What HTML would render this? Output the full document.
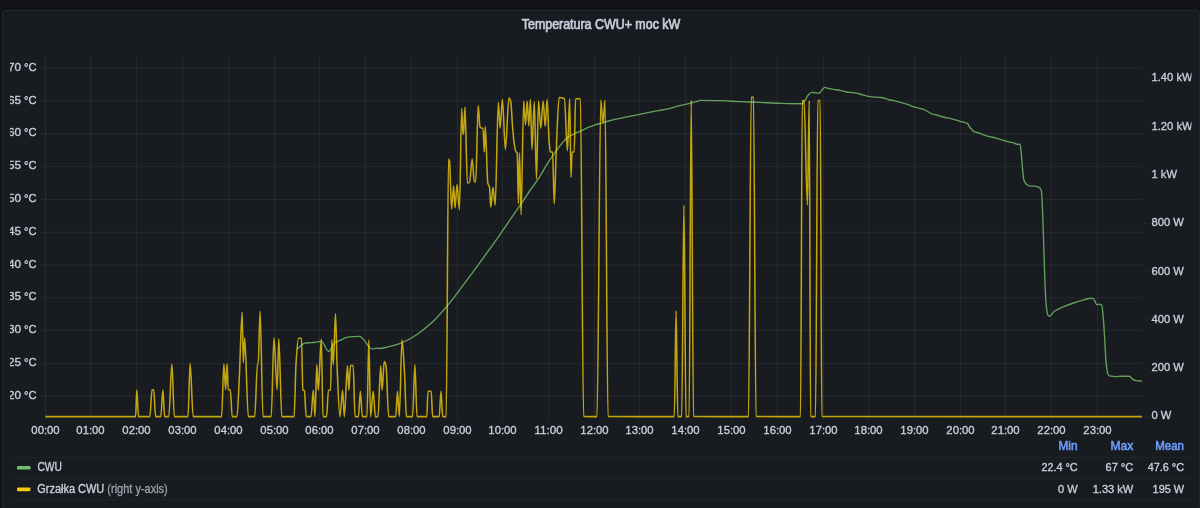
<!DOCTYPE html>
<html><head><meta charset="utf-8"><title>Temperatura CWU+ moc kW</title>
<style>html,body{margin:0;padding:0;width:1200px;height:508px;overflow:hidden;background:#111217;}svg{display:block;}</style>
</head><body>
<svg width="1200" height="508" viewBox="0 0 1200 508">
<defs><clipPath id="c"><rect x="10" y="0" width="1181.5" height="508"/></clipPath></defs>
<rect width="1200" height="508" fill="#111217"/>
<rect x="2.5" y="10.5" width="1197" height="498" rx="2.5" fill="#181b1f" stroke="rgba(204,204,220,0.10)"/>
<text x="601" y="28.7" font-family="Liberation Sans, Arial, sans-serif" font-size="14" fill="#ccccdc" stroke="#ccccdc" stroke-width="0.7" text-anchor="middle" textLength="158.5" lengthAdjust="spacingAndGlyphs">Temperatura CWU+ moc kW</text>
<g clip-path="url(#c)">
<path d="M45.5,55V420 M90.5,55V420 M136.5,55V420 M182.5,55V420 M228.5,55V420 M274.5,55V420 M319.5,55V420 M365.5,55V420 M411.5,55V420 M457.5,55V420 M502.5,55V420 M548.5,55V420 M594.5,55V420 M639.5,55V420 M685.5,55V420 M731.5,55V420 M777.5,55V420 M823.5,55V420 M868.5,55V420 M914.5,55V420 M960.5,55V420 M1005.5,55V420 M1051.5,55V420 M1097.5,55V420 M41,68.30H1143 M41,101.09H1143 M41,133.88H1143 M41,166.67H1143 M41,199.46H1143 M41,232.25H1143 M41,265.04H1143 M41,297.83H1143 M41,330.62H1143 M41,363.41H1143 M41,396.20H1143" stroke="rgba(204,204,220,0.08)" stroke-width="1" fill="none"/>
<path d="M1143,416.60H1147 M1143,368.31H1147 M1143,320.03H1147 M1143,271.74H1147 M1143,223.46H1147 M1143,175.17H1147 M1143,126.88H1147 M1143,78.60H1147" stroke="rgba(204,204,220,0.08)" stroke-width="1" fill="none"/>
<g font-family="Liberation Sans, Arial, sans-serif" font-size="11.8" fill="#ccccdc" stroke="#ccccdc" stroke-width="0.35">
<text x="21.2" y="70.8" text-anchor="end">70</text><text x="24.0" y="70.8" textLength="12.4" lengthAdjust="spacingAndGlyphs">°C</text>
<text x="21.2" y="103.6" text-anchor="end">65</text><text x="24.0" y="103.6" textLength="12.4" lengthAdjust="spacingAndGlyphs">°C</text>
<text x="21.2" y="136.4" text-anchor="end">60</text><text x="24.0" y="136.4" textLength="12.4" lengthAdjust="spacingAndGlyphs">°C</text>
<text x="21.2" y="169.2" text-anchor="end">55</text><text x="24.0" y="169.2" textLength="12.4" lengthAdjust="spacingAndGlyphs">°C</text>
<text x="21.2" y="202.0" text-anchor="end">50</text><text x="24.0" y="202.0" textLength="12.4" lengthAdjust="spacingAndGlyphs">°C</text>
<text x="21.2" y="234.8" text-anchor="end">45</text><text x="24.0" y="234.8" textLength="12.4" lengthAdjust="spacingAndGlyphs">°C</text>
<text x="21.2" y="267.5" text-anchor="end">40</text><text x="24.0" y="267.5" textLength="12.4" lengthAdjust="spacingAndGlyphs">°C</text>
<text x="21.2" y="300.3" text-anchor="end">35</text><text x="24.0" y="300.3" textLength="12.4" lengthAdjust="spacingAndGlyphs">°C</text>
<text x="21.2" y="333.1" text-anchor="end">30</text><text x="24.0" y="333.1" textLength="12.4" lengthAdjust="spacingAndGlyphs">°C</text>
<text x="21.2" y="365.9" text-anchor="end">25</text><text x="24.0" y="365.9" textLength="12.4" lengthAdjust="spacingAndGlyphs">°C</text>
<text x="21.2" y="398.7" text-anchor="end">20</text><text x="24.0" y="398.7" textLength="12.4" lengthAdjust="spacingAndGlyphs">°C</text>
<text transform="translate(1151.50 419.40) scale(0.95 1)">0 W</text>
<text transform="translate(1151.50 371.11) scale(0.95 1)">200 W</text>
<text transform="translate(1151.50 322.83) scale(0.95 1)">400 W</text>
<text transform="translate(1151.50 274.54) scale(0.95 1)">600 W</text>
<text transform="translate(1151.50 226.26) scale(0.95 1)">800 W</text>
<text transform="translate(1151.50 177.97) scale(0.95 1)">1 kW</text>
<text transform="translate(1151.50 129.68) scale(0.95 1)">1.20 kW</text>
<text transform="translate(1151.50 81.40) scale(0.95 1)">1.40 kW</text>
<text x="45.5" y="433.6" text-anchor="middle" textLength="28.3" lengthAdjust="spacingAndGlyphs">00:00</text>
<text x="90.5" y="433.6" text-anchor="middle" textLength="28.3" lengthAdjust="spacingAndGlyphs">01:00</text>
<text x="136.5" y="433.6" text-anchor="middle" textLength="28.3" lengthAdjust="spacingAndGlyphs">02:00</text>
<text x="182.5" y="433.6" text-anchor="middle" textLength="28.3" lengthAdjust="spacingAndGlyphs">03:00</text>
<text x="228.5" y="433.6" text-anchor="middle" textLength="28.3" lengthAdjust="spacingAndGlyphs">04:00</text>
<text x="274.5" y="433.6" text-anchor="middle" textLength="28.3" lengthAdjust="spacingAndGlyphs">05:00</text>
<text x="319.5" y="433.6" text-anchor="middle" textLength="28.3" lengthAdjust="spacingAndGlyphs">06:00</text>
<text x="365.5" y="433.6" text-anchor="middle" textLength="28.3" lengthAdjust="spacingAndGlyphs">07:00</text>
<text x="411.5" y="433.6" text-anchor="middle" textLength="28.3" lengthAdjust="spacingAndGlyphs">08:00</text>
<text x="457.5" y="433.6" text-anchor="middle" textLength="28.3" lengthAdjust="spacingAndGlyphs">09:00</text>
<text x="502.5" y="433.6" text-anchor="middle" textLength="28.3" lengthAdjust="spacingAndGlyphs">10:00</text>
<text x="548.5" y="433.6" text-anchor="middle" textLength="28.3" lengthAdjust="spacingAndGlyphs">11:00</text>
<text x="594.5" y="433.6" text-anchor="middle" textLength="28.3" lengthAdjust="spacingAndGlyphs">12:00</text>
<text x="639.5" y="433.6" text-anchor="middle" textLength="28.3" lengthAdjust="spacingAndGlyphs">13:00</text>
<text x="685.5" y="433.6" text-anchor="middle" textLength="28.3" lengthAdjust="spacingAndGlyphs">14:00</text>
<text x="731.5" y="433.6" text-anchor="middle" textLength="28.3" lengthAdjust="spacingAndGlyphs">15:00</text>
<text x="777.5" y="433.6" text-anchor="middle" textLength="28.3" lengthAdjust="spacingAndGlyphs">16:00</text>
<text x="823.5" y="433.6" text-anchor="middle" textLength="28.3" lengthAdjust="spacingAndGlyphs">17:00</text>
<text x="868.5" y="433.6" text-anchor="middle" textLength="28.3" lengthAdjust="spacingAndGlyphs">18:00</text>
<text x="914.5" y="433.6" text-anchor="middle" textLength="28.3" lengthAdjust="spacingAndGlyphs">19:00</text>
<text x="960.5" y="433.6" text-anchor="middle" textLength="28.3" lengthAdjust="spacingAndGlyphs">20:00</text>
<text x="1005.5" y="433.6" text-anchor="middle" textLength="28.3" lengthAdjust="spacingAndGlyphs">21:00</text>
<text x="1051.5" y="433.6" text-anchor="middle" textLength="28.3" lengthAdjust="spacingAndGlyphs">22:00</text>
<text x="1097.5" y="433.6" text-anchor="middle" textLength="28.3" lengthAdjust="spacingAndGlyphs">23:00</text>
</g>
<path d="M297.00,349.30C298.90,347.60 300.80,345.45 302.70,344.20C303.37,343.76 304.03,343.20 304.70,343.10C306.93,342.76 309.17,342.77 311.40,342.60C313.20,342.47 315.00,342.41 316.80,342.20C318.13,342.04 319.47,341.20 320.80,341.20C321.20,341.20 321.60,341.53 322.00,341.80C324.27,343.31 326.53,351.50 328.80,351.50C330.80,351.50 332.80,344.23 334.80,342.80C336.83,341.34 338.87,340.77 340.90,339.90C343.57,338.76 346.23,336.99 348.90,336.80C352.47,336.55 356.03,336.40 359.60,336.40C360.50,336.40 361.40,337.45 362.30,338.20C364.53,340.06 366.77,344.39 369.00,346.60C369.90,347.49 370.80,348.90 371.70,348.90C373.47,348.90 375.23,348.20 377.00,348.20C378.00,348.20 379.00,348.50 380.00,348.50C382.63,348.50 385.27,347.50 387.90,346.90C390.50,346.31 393.10,345.67 395.70,344.90C397.80,344.28 399.90,343.55 402.00,342.70C405.17,341.42 408.33,339.80 411.50,338.00C414.13,336.51 416.77,334.71 419.40,332.80C422.00,330.91 424.60,328.71 427.20,326.50C429.83,324.26 432.47,322.01 435.10,319.40C437.73,316.79 440.37,313.71 443.00,310.70C445.63,307.69 448.27,304.58 450.90,301.30C453.93,297.52 456.97,293.42 460.00,289.40C466.57,280.69 473.13,271.81 479.70,262.80C486.27,253.79 492.83,244.65 499.40,235.30C505.97,225.95 512.53,216.36 519.10,206.70C522.73,201.36 526.37,195.75 530.00,190.50C533.27,185.78 536.53,181.81 539.80,176.70C542.20,172.95 544.60,168.05 547.00,164.20C548.30,162.11 549.60,160.18 550.90,158.30C552.20,156.42 553.50,154.70 554.80,152.90C556.47,150.60 558.13,148.14 559.80,146.00C561.43,143.90 563.07,141.91 564.70,140.10C565.67,139.03 566.63,137.74 567.60,137.10C568.93,136.21 570.27,135.86 571.60,135.20C573.23,134.40 574.87,133.46 576.50,132.70C578.13,131.94 579.77,131.33 581.40,130.60C583.03,129.87 584.67,129.01 586.30,128.30C587.97,127.58 589.63,126.97 591.30,126.30C592.53,125.80 593.77,125.20 595.00,124.80C596.67,124.27 598.33,123.95 600.00,123.50C602.90,122.71 605.80,121.76 608.70,121.00C612.00,120.13 615.30,119.31 618.60,118.60C621.87,117.90 625.13,117.35 628.40,116.70C631.70,116.05 635.00,115.37 638.30,114.70C641.57,114.04 644.83,113.36 648.10,112.70C651.40,112.03 654.70,111.35 658.00,110.70C661.27,110.05 664.53,109.53 667.80,108.80C671.07,108.07 674.33,107.01 677.60,106.20C680.90,105.38 684.20,104.70 687.50,103.90C690.13,103.26 692.77,102.64 695.40,101.90C697.03,101.44 698.67,100.40 700.30,100.40C706.87,100.40 713.43,100.55 720.00,100.70C726.67,100.85 733.33,101.32 740.00,101.60C746.67,101.88 753.33,102.12 760.00,102.40C766.67,102.68 773.33,103.13 780.00,103.30C787.33,103.49 794.67,103.70 802.00,103.70C803.10,103.70 804.20,101.51 805.30,100.00C806.20,98.76 807.10,96.27 808.00,95.30C809.33,93.87 810.67,92.30 812.00,92.30C812.90,92.30 813.80,92.57 814.70,92.70C816.03,92.90 817.37,93.30 818.70,93.30C819.37,93.30 820.03,92.31 820.70,91.70C822.03,90.49 823.37,87.30 824.70,87.30C825.80,87.30 826.90,88.04 828.00,88.30C829.77,88.72 831.53,88.99 833.30,89.30C835.53,89.69 837.77,89.97 840.00,90.40C842.23,90.83 844.47,91.67 846.70,92.00C848.90,92.32 851.10,92.40 853.30,92.70C855.53,93.01 857.77,93.49 860.00,94.00C862.77,94.63 865.53,95.81 868.30,96.30C870.53,96.70 872.77,97.05 875.00,97.20C877.23,97.35 879.47,97.33 881.70,97.50C884.47,97.71 887.23,99.35 890.00,100.00C892.23,100.52 894.47,100.79 896.70,101.30C900.57,102.19 904.43,103.36 908.30,104.70C909.97,105.28 911.63,106.20 913.30,106.70C915.53,107.38 917.77,107.67 920.00,108.30C921.67,108.77 923.33,109.30 925.00,110.00C927.23,110.94 929.47,113.06 931.70,113.80C933.37,114.35 935.03,114.56 936.70,115.00C939.47,115.73 942.23,116.94 945.00,117.50C946.67,117.84 948.33,117.96 950.00,118.30C953.33,118.97 956.67,120.27 960.00,121.30C962.50,122.08 965.00,122.22 967.50,123.70C968.33,124.19 969.17,126.48 970.00,127.50C971.40,129.22 972.80,131.08 974.20,131.70C976.13,132.56 978.07,132.69 980.00,133.30C982.23,134.01 984.47,135.12 986.70,135.80C990.03,136.81 993.37,137.39 996.70,138.30C999.47,139.06 1002.23,140.03 1005.00,140.80C1006.67,141.26 1008.33,141.68 1010.00,142.10C1011.37,142.44 1012.73,142.68 1014.10,143.10C1015.03,143.39 1015.97,144.20 1016.90,144.20C1017.90,144.20 1018.90,144.20 1019.90,144.20C1020.27,144.20 1020.63,147.85 1021.00,150.70C1021.47,154.33 1021.93,162.46 1022.40,167.20C1022.87,171.94 1023.33,178.25 1023.80,179.70C1024.73,182.60 1025.67,183.80 1026.60,184.50C1027.73,185.35 1028.87,186.10 1030.00,186.10C1031.60,186.10 1033.20,186.10 1034.80,186.10C1036.43,186.10 1038.07,186.81 1039.70,187.90C1040.27,188.28 1040.83,188.99 1041.40,190.70C1042.03,192.61 1042.67,214.92 1043.30,231.30C1043.73,242.51 1044.17,261.40 1044.60,272.60C1045.07,284.67 1045.53,298.37 1046.00,303.00C1046.67,309.61 1047.33,314.51 1048.00,315.30C1048.43,315.81 1048.87,316.20 1049.30,316.20C1050.97,316.20 1052.63,312.34 1054.30,311.20C1057.03,309.33 1059.77,308.27 1062.50,307.10C1066.20,305.52 1069.90,304.25 1073.60,303.00C1077.27,301.77 1080.93,300.61 1084.60,299.60C1086.03,299.20 1087.47,298.62 1088.90,298.50C1090.23,298.39 1091.57,298.30 1092.90,298.30C1093.53,298.30 1094.17,299.80 1094.80,300.80C1095.47,301.86 1096.13,304.80 1096.80,304.80C1097.47,304.80 1098.13,304.20 1098.80,304.20C1099.77,304.20 1100.73,304.36 1101.70,304.80C1102.17,305.01 1102.63,310.91 1103.10,315.60C1103.63,320.97 1104.17,331.01 1104.70,339.20C1105.23,347.39 1105.77,360.58 1106.30,364.80C1106.93,369.81 1107.57,373.83 1108.20,374.60C1109.00,375.57 1109.80,376.09 1110.60,376.20C1112.57,376.47 1114.53,376.60 1116.50,376.60C1117.80,376.60 1119.10,376.20 1120.40,376.20C1123.37,376.20 1126.33,376.20 1129.30,376.20C1130.60,376.20 1131.90,378.98 1133.20,379.60C1134.20,380.07 1135.20,380.45 1136.20,380.60C1138.13,380.88 1140.07,380.93 1142.00,381.10" stroke="#73BF69" stroke-width="1.35" stroke-opacity="0.82" fill="none" stroke-linejoin="round"/>
<path d="M45.50,416.60C75.53,416.60 105.57,416.60 135.60,416.60C136.00,416.60 136.40,389.80 136.80,389.80C137.37,389.80 137.93,416.60 138.50,416.60C142.30,416.60 146.10,416.60 149.90,416.60C150.60,416.60 151.30,389.80 152.00,389.80C152.57,389.80 153.13,389.80 153.70,389.80C154.33,389.80 154.97,416.60 155.60,416.60C157.33,416.60 159.07,416.60 160.80,416.60C161.50,416.60 162.20,389.80 162.90,389.80C163.47,389.80 164.03,416.60 164.60,416.60C166.00,416.60 167.40,416.60 168.80,416.60C169.83,416.60 170.87,363.80 171.90,363.80C172.70,363.80 173.50,416.60 174.30,416.60C178.87,416.60 183.43,416.60 188.00,416.60C188.70,416.60 189.40,363.40 190.10,363.40C191.13,363.40 192.17,416.60 193.20,416.60C202.67,416.60 212.13,416.60 221.60,416.60C222.37,416.60 223.13,363.80 223.90,363.80C224.47,363.80 225.03,389.80 225.60,389.80C226.07,389.80 226.53,363.80 227.00,363.80C227.40,363.80 227.80,389.80 228.20,389.80C228.90,389.80 229.60,389.80 230.30,389.80C230.93,389.80 231.57,416.60 232.20,416.60C233.80,416.60 235.40,416.60 237.00,416.60C237.77,416.60 238.53,392.92 239.30,378.00C240.23,359.83 241.17,312.30 242.10,312.30C242.50,312.30 242.90,362.60 243.30,362.60C243.77,362.60 244.23,337.80 244.70,337.80C245.90,337.80 247.10,416.60 248.30,416.60C250.43,416.60 252.57,416.60 254.70,416.60C255.63,416.60 256.57,363.80 257.50,363.80C257.73,363.80 257.97,363.80 258.20,363.80C258.83,363.80 259.47,311.30 260.10,311.30C261.07,311.30 262.03,416.60 263.00,416.60C265.73,416.60 268.47,416.60 271.20,416.60C272.13,416.60 273.07,337.80 274.00,337.80C275.03,337.80 276.07,389.80 277.10,389.80C277.67,389.80 278.23,339.00 278.80,339.00C279.80,339.00 280.80,416.60 281.80,416.60C285.90,416.60 290.00,416.60 294.10,416.60C294.73,416.60 295.37,373.45 296.00,363.80C296.83,351.10 297.67,338.30 298.50,338.30C299.50,338.30 300.50,338.30 301.50,338.30C301.93,338.30 302.37,389.72 302.80,390.00C303.33,390.34 303.87,390.18 304.40,390.50C305.00,390.86 305.60,416.60 306.20,416.60C307.80,416.60 309.40,416.60 311.00,416.60C311.77,416.60 312.53,390.30 313.30,390.30C313.87,390.30 314.43,416.60 315.00,416.60C315.60,416.60 316.20,364.60 316.80,364.60C317.30,364.60 317.80,390.30 318.30,390.30C319.30,390.30 320.30,338.90 321.30,338.90C321.87,338.90 322.43,416.60 323.00,416.60C324.20,416.60 325.40,416.60 326.60,416.60C327.20,416.60 327.80,390.30 328.40,390.30C329.10,390.30 329.80,390.30 330.50,390.30C330.97,390.30 331.43,339.80 331.90,339.80C332.37,339.80 332.83,364.60 333.30,364.60C334.03,364.60 334.77,313.40 335.50,313.40C336.07,313.40 336.63,355.72 337.20,369.00C338.10,390.10 339.00,416.60 339.90,416.60C340.80,416.60 341.70,390.30 342.60,390.30C343.17,390.30 343.73,416.60 344.30,416.60C345.37,416.60 346.43,365.50 347.50,365.50C347.93,365.50 348.37,390.30 348.80,390.30C349.37,390.30 349.93,365.50 350.50,365.50C351.40,365.50 352.30,365.50 353.20,365.50C353.80,365.50 354.40,416.60 355.00,416.60C356.17,416.60 357.33,416.60 358.50,416.60C359.10,416.60 359.70,391.20 360.30,391.20C361.00,391.20 361.70,416.60 362.40,416.60C363.93,416.60 365.47,416.60 367.00,416.60C367.60,416.60 368.20,339.80 368.80,339.80C369.40,339.80 370.00,416.60 370.60,416.60C371.47,416.60 372.33,391.20 373.20,391.20C373.93,391.20 374.67,416.60 375.40,416.60C376.27,416.60 377.13,416.60 378.00,416.60C378.90,416.60 379.80,365.50 380.70,365.50C381.17,365.50 381.63,390.30 382.10,390.30C382.80,390.30 383.50,361.60 384.20,361.60C384.80,361.60 385.40,363.28 386.00,365.50C386.90,368.82 387.80,416.60 388.70,416.60C391.03,416.60 393.37,416.60 395.70,416.60C396.30,416.60 396.90,391.20 397.50,391.20C398.10,391.20 398.70,416.60 399.30,416.60C400.20,416.60 401.10,339.80 402.00,339.80C402.87,339.80 403.73,359.35 404.60,374.30C405.20,384.65 405.80,416.60 406.40,416.60C408.47,416.60 410.53,416.60 412.60,416.60C413.37,416.60 414.13,364.60 414.90,364.60C415.60,364.60 416.30,416.60 417.00,416.60C420.27,416.60 423.53,416.60 426.80,416.60C427.20,416.60 427.60,391.20 428.00,391.20C429.07,391.20 430.13,391.20 431.20,391.20C431.67,391.20 432.13,416.60 432.60,416.60C434.80,416.60 437.00,416.60 439.20,416.60C439.80,416.60 440.40,391.20 441.00,391.20C441.57,391.20 442.13,416.60 442.70,416.60C443.87,416.60 445.03,416.60 446.20,416.60C446.97,416.60 447.73,159.00 448.50,159.00C448.83,159.00 449.17,159.88 449.50,161.00C450.20,163.34 450.90,209.20 451.60,209.20C452.27,209.20 452.93,185.80 453.60,185.80C454.07,185.80 454.53,207.90 455.00,207.90C455.70,207.90 456.40,184.40 457.10,184.40C457.87,184.40 458.63,209.90 459.40,209.90C460.17,209.90 460.93,108.20 461.70,108.20C462.10,108.20 462.50,134.10 462.90,134.10C463.10,134.10 463.30,133.84 463.50,133.50C464.00,132.66 464.50,107.00 465.00,107.00C465.80,107.00 466.60,183.00 467.40,183.00C468.10,183.00 468.80,182.77 469.50,182.40C470.40,181.92 471.30,159.00 472.20,159.00C472.90,159.00 473.60,181.70 474.30,181.70C474.77,181.70 475.23,181.70 475.70,181.70C476.53,181.70 477.37,105.60 478.20,105.60C478.80,105.60 479.40,126.24 480.00,127.00C480.60,127.76 481.20,128.20 481.80,128.20C482.20,128.20 482.60,128.20 483.00,128.20C483.43,128.20 483.87,152.00 484.30,152.00C484.63,152.00 484.97,126.50 485.30,126.50C486.13,126.50 486.97,179.47 487.80,183.00C488.37,185.40 488.93,184.71 489.50,187.20C489.93,189.11 490.37,207.20 490.80,207.20C491.50,207.20 492.20,187.20 492.90,187.20C493.67,187.20 494.43,205.10 495.20,205.10C496.23,205.10 497.27,102.30 498.30,102.30C498.90,102.30 499.50,128.20 500.10,128.20C500.87,128.20 501.63,99.30 502.40,99.30C503.40,99.30 504.40,149.50 505.40,149.50C506.57,149.50 507.73,98.10 508.90,98.10C509.50,98.10 510.10,99.27 510.70,101.00C511.30,102.73 511.90,118.78 512.50,125.90C513.07,132.62 513.63,139.96 514.20,143.60C514.80,147.45 515.40,151.39 516.00,151.90C516.40,152.24 516.80,152.10 517.20,152.50C517.60,152.90 518.00,203.70 518.40,203.70C518.77,203.70 519.13,152.80 519.50,152.80C520.03,152.80 520.57,214.70 521.10,214.70C521.97,214.70 522.83,101.00 523.70,101.00C524.30,101.00 524.90,124.70 525.50,124.70C526.07,124.70 526.63,101.00 527.20,101.00C527.73,101.00 528.27,125.90 528.80,125.90C529.33,125.90 529.87,99.30 530.40,99.30C530.93,99.30 531.47,149.50 532.00,149.50C532.77,149.50 533.53,101.70 534.30,101.70C535.03,101.70 535.77,179.00 536.50,179.00C537.17,179.00 537.83,101.00 538.50,101.00C539.27,101.00 540.03,128.20 540.80,128.20C541.60,128.20 542.40,101.00 543.20,101.00C543.87,101.00 544.53,126.50 545.20,126.50C545.83,126.50 546.47,99.30 547.10,99.30C547.77,99.30 548.43,133.13 549.10,141.20C549.50,146.04 549.90,151.90 550.30,151.90C551.07,151.90 551.83,151.90 552.60,151.90C553.13,151.90 553.67,203.70 554.20,203.70C554.90,203.70 555.60,165.26 556.30,150.00C557.23,129.66 558.17,97.50 559.10,97.50C560.87,97.50 562.63,97.83 564.40,98.70C565.40,99.19 566.40,150.70 567.40,150.70C568.17,150.70 568.93,98.70 569.70,98.70C570.13,98.70 570.57,177.50 571.00,177.50C571.37,177.50 571.73,152.00 572.10,152.00C572.80,152.00 573.50,152.00 574.20,152.00C574.67,152.00 575.13,98.70 575.60,98.70C577.20,98.70 578.80,98.70 580.40,98.70C581.47,98.70 582.53,416.60 583.60,416.60C588.07,416.60 592.53,416.60 597.00,416.60C598.27,416.60 599.53,100.20 600.80,100.20C601.50,100.20 602.20,123.20 602.90,123.20C603.60,123.20 604.30,100.20 605.00,100.20C606.00,100.20 607.00,416.60 608.00,416.60C630.10,416.60 652.20,416.60 674.30,416.60C674.90,416.60 675.50,310.90 676.10,310.90C676.67,310.90 677.23,416.60 677.80,416.60C679.10,416.60 680.40,416.60 681.70,416.60C682.43,416.60 683.17,205.20 683.90,205.20C684.60,205.20 685.30,416.60 686.00,416.60C687.03,416.60 688.07,416.60 689.10,416.60C689.80,416.60 690.50,100.20 691.20,100.20C691.97,100.20 692.73,416.60 693.50,416.60C711.83,416.60 730.17,416.60 748.50,416.60C749.40,416.60 750.30,97.20 751.20,97.20C751.97,97.20 752.73,97.20 753.50,97.20C754.33,97.20 755.17,416.60 756.00,416.60C770.83,416.60 785.67,416.60 800.50,416.60C801.10,416.60 801.70,100.50 802.30,100.50C802.87,100.50 803.43,100.50 804.00,100.50C805.13,100.50 806.27,205.30 807.40,205.30C808.00,205.30 808.60,100.50 809.20,100.50C809.67,100.50 810.13,416.60 810.60,416.60C812.23,416.60 813.87,416.60 815.50,416.60C816.27,416.60 817.03,100.50 817.80,100.50C818.60,100.50 819.40,100.50 820.20,100.50C820.73,100.50 821.27,416.60 821.80,416.60C928.53,416.60 1035.27,416.60 1142.00,416.60" stroke="#F2CC0C" stroke-width="1.55" stroke-opacity="0.78" fill="none" stroke-linejoin="round"/>
<path d="M10,457.5H1191.5 M10,478.5H1191.5 M10,499.5H1191.5" stroke="rgba(204,204,220,0.05)" stroke-width="1"/>
<rect x="17" y="466" width="13.5" height="3.6" rx="1.2" fill="#73BF69"/>
<rect x="17" y="487.6" width="13.5" height="3.6" rx="1.2" fill="#F2CC0C"/>
<g font-family="Liberation Sans, Arial, sans-serif" font-size="12" fill="#ccccdc" stroke="#ccccdc" stroke-width="0.35">
<text x="37.4" y="471.2" textLength="24.5" lengthAdjust="spacingAndGlyphs">CWU</text>
<text transform="translate(37.20 493.00) scale(0.915 1)">Grzałka CWU <tspan fill="rgba(204,204,220,0.65)" stroke="rgba(204,204,220,0.65)">(right y-axis)</tspan></text>
<g fill="#6e9fff" stroke="#6e9fff" stroke-width="0.55">
<text transform="translate(1077.60 449.90) scale(0.99 1)" text-anchor="end">Min</text><text x="1133.20" y="449.90" text-anchor="end">Max</text><text transform="translate(1184.00 449.90) scale(0.96 1)" text-anchor="end">Mean</text>
</g>
<text transform="translate(1077.60 470.90) scale(0.95 1)" text-anchor="end" font-size="11.4">22.4 °C</text><text transform="translate(1133.20 470.90) scale(0.965 1)" text-anchor="end" font-size="11.4">67 °C</text><text transform="translate(1184.00 470.90) scale(0.955 1)" text-anchor="end" font-size="11.4">47.6 °C</text>
<text transform="translate(1077.60 492.60) scale(0.965 1)" text-anchor="end" font-size="11.4">0 W</text><text transform="translate(1133.20 492.60) scale(0.97 1)" text-anchor="end" font-size="11.4">1.33 kW</text><text transform="translate(1184.00 492.60) scale(0.955 1)" text-anchor="end" font-size="11.4">195 W</text>
</g>
</g>
</svg>
</body></html>
